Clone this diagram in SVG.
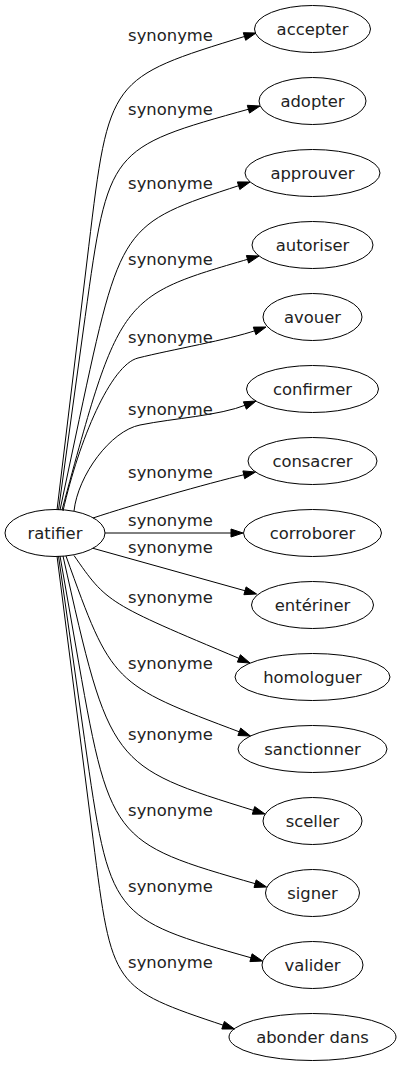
<svg xmlns="http://www.w3.org/2000/svg" width="401" height="1067" viewBox="0 0 401 1067">
<style>
.node ellipse{fill:none;stroke:#000;stroke-width:1}
text{font-family:"DejaVu Sans",Verdana,sans-serif;font-size:16.4px;fill:#222;text-anchor:middle}
#edges path{fill:none;stroke:#000;stroke-width:1}
#edges polygon{fill:#000;stroke:#000;stroke-width:1}
</style>
<rect width="401" height="1067" fill="#fff"/>
<g id="edges">
<path d="M57,510 L88.7,246.8 C109,78 109,78 246.4,35.9"/><polygon points="256,33 245.7,40.3 243.3,32.7"/>
<path d="M58.5,510 L85.2,316.5 C108.5,148 108.5,148 250.4,108.7"/><polygon points="260,106 249.5,113.1 247.3,105.3"/>
<path d="M60,510 L79.2,419.6 C121,224 121,224 240.5,185.1"/><polygon points="250,182 239.8,189.5 237.4,181.9"/>
<path d="M62,510 C119.7,296.5 119.7,296.5 249.4,258.8"/><polygon points="259,256 248.6,263.1 246.4,255.5"/>
<path d="M63,511 C79,440 110.8,364.8 138,358 C172,349.5 228.1,339.9 256.5,330.2"/><polygon points="266,327 255.9,334.7 253.3,327.1"/>
<path d="M74,511 C78,475 110.6,430.9 140,425 C174.3,418.1 218.9,415.8 246.7,404.7"/><polygon points="256,401 246.4,409.2 243.4,401.8"/>
<path d="M93,518 C133,504.7 205.8,483.9 245.8,474.3"/><polygon points="255.5,472 244.7,478.7 242.9,470.9"/>
<path d="M105,533 L233,533"/><polygon points="243,533 231,537 231,529"/>
<path d="M93,548.3 L247,591.3"/><polygon points="256.6,594 243.9,594.7 246.1,586.9"/>
<path d="M74,555.5 C107,603 107,603 240.8,659.1"/><polygon points="250,663 237.4,662.1 240.4,654.7"/>
<path d="M66,556 C112,684 112,684 241.1,732.5"/><polygon points="250.5,736 237.9,735.5 240.7,728.1"/>
<path d="M63,556 C110,766 110,766 255.5,811"/><polygon points="265,814 252.3,814.2 254.7,806.6"/>
<path d="M60,556 L75.6,645 C110,842 110,842 257,884.2"/><polygon points="266.6,887 254,887.5 256.2,879.9"/>
<path d="M58.5,556 L84.6,739.8 C110,918 110,918 252.9,958.3"/><polygon points="262.5,961 249.9,961.6 252.1,953.8"/>
<path d="M57,556 L93.1,839.2 C112,988 112,988 225,1025.8"/><polygon points="234.5,1029 221.8,1029 224.4,1021.4"/>
<g id="edge-labels">
<text x="170.5" y="41.2">synonyme</text>
<text x="170.5" y="115.2">synonyme</text>
<text x="170.5" y="189.2">synonyme</text>
<text x="170.5" y="265.2">synonyme</text>
<text x="170.5" y="343.2">synonyme</text>
<text x="170.5" y="415.2">synonyme</text>
<text x="170.5" y="478.2">synonyme</text>
<text x="170.5" y="526.2">synonyme</text>
<text x="170.5" y="553.2">synonyme</text>
<text x="170.5" y="603.2">synonyme</text>
<text x="170.5" y="669.2">synonyme</text>
<text x="170.5" y="740.2">synonyme</text>
<text x="170.5" y="816.2">synonyme</text>
<text x="170.5" y="892.2">synonyme</text>
<text x="170.5" y="968.2">synonyme</text>
</g>
</g>
<g id="ratifier" class="node"><ellipse cx="55" cy="533" rx="50" ry="23.5"/><text x="55" y="539">ratifier</text></g>
<g id="accepter" class="node"><ellipse cx="312.5" cy="29" rx="58" ry="23.5"/><text x="312.5" y="35">accepter</text></g>
<g id="adopter" class="node"><ellipse cx="312.5" cy="101" rx="53.5" ry="23.5"/><text x="312.5" y="107">adopter</text></g>
<g id="approuver" class="node"><ellipse cx="312.5" cy="173" rx="67.5" ry="23.5"/><text x="312.5" y="179">approuver</text></g>
<g id="autoriser" class="node"><ellipse cx="312.5" cy="245" rx="60.5" ry="23.5"/><text x="312.5" y="251">autoriser</text></g>
<g id="avouer" class="node"><ellipse cx="312.5" cy="317" rx="49.5" ry="23.5"/><text x="312.5" y="323">avouer</text></g>
<g id="confirmer" class="node"><ellipse cx="312.5" cy="389" rx="66" ry="23.5"/><text x="312.5" y="395">confirmer</text></g>
<g id="consacrer" class="node"><ellipse cx="312.5" cy="461" rx="64.5" ry="23.5"/><text x="312.5" y="467">consacrer</text></g>
<g id="corroborer" class="node"><ellipse cx="312.5" cy="533" rx="69" ry="23.5"/><text x="312.5" y="539">corroborer</text></g>
<g id="enteriner" class="node"><ellipse cx="312.5" cy="605" rx="61" ry="23.5"/><text x="312.5" y="611">entériner</text></g>
<g id="homologuer" class="node"><ellipse cx="312.5" cy="677" rx="77.5" ry="23.5"/><text x="312.5" y="683">homologuer</text></g>
<g id="sanctionner" class="node"><ellipse cx="312.5" cy="749" rx="74.5" ry="23.5"/><text x="312.5" y="755">sanctionner</text></g>
<g id="sceller" class="node"><ellipse cx="312.5" cy="821" rx="49.5" ry="23.5"/><text x="312.5" y="827">sceller</text></g>
<g id="signer" class="node"><ellipse cx="312.5" cy="893" rx="47" ry="23.5"/><text x="312.5" y="899">signer</text></g>
<g id="valider" class="node"><ellipse cx="312.5" cy="965" rx="50.5" ry="23.5"/><text x="312.5" y="971">valider</text></g>
<g id="abonder-dans" class="node"><ellipse cx="312.5" cy="1037" rx="83.5" ry="23.5"/><text x="312.5" y="1043">abonder dans</text></g>
</svg>
